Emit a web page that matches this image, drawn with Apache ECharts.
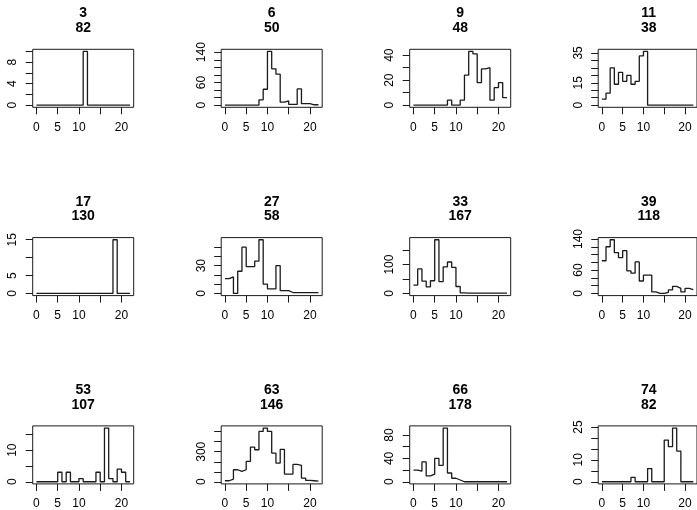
<!DOCTYPE html>
<html><head><meta charset="utf-8">
<script src="https://cdn.jsdelivr.net/npm/echarts@6/dist/echarts.min.js"></script>
<style>html,body{margin:0;padding:0;background:#fff}#c{width:697px;height:510px}</style>
</head><body><div id="c"></div>
<script>
// Panel titles (two lines each)
const panelIds = ['3','6','9','11','17','27','33','39','53','63','66','74'];
const panelNs  = ['82','50','48','38','130','58','167','118','107','146','178','82'];

// x positions are 0..22 (index)
const xTickValues = [0,5,10,15,20];
const xTickLabels = [0,5,10,20];

// Series values
const s3  = [0,0,0,0,0,0,0,0,0,0,0,10,0,0,0,0,0,0,0,0,0,0,0];
const s6  = [0,0,0,0,0,0,0,0,14,42,142,96,82,8,11,2,2,43,4,4,1,1,1];
const s9  = [0,0,0,0,0,0,0,0,4,0,0,4,24,43,41,18,29,30,4,14,18,6,6];
const s11 = [4,8,25,14,22,16,20,14,16,33,36,0,0,0,0,0,0,0,0,0,0,0,0];
const s17 = [0,0,0,0,0,0,0,0,0,0,0,0,0,0,0,0,0,0,15,0,0,0,0];
const s27 = [16,18,0,24,50,29,29,35,58,10,5,5,30,3,3,1,1,1,1,1,1,1,1];
const s33 = [29,85,43,23,44,186,41,92,109,90,24,2,1,1,1,1,1,1,1,1,1,1,1];
const s39 = [84,120,138,105,92,110,58,52,81,32,47,47,4,0,0,3,9,18,13,4,13,10,10];
const s53 = [0,0,0,0,0,3,0,3,0,0,1,0,0,0,3,0,17,1,0,4,3,0,0];
const s63 = [10,27,120,103,120,203,347,320,503,537,503,287,187,323,77,77,173,163,37,13,10,7,7];
const s66 = [20,18,34,10,13,40,28,92,15,6,3,0,0,0,0,0,0,0,0,0,0,0,0];
const s74 = [0,0,0,0,0,0,0,2,0,0,0,6,0,0,0,19,16,24.5,14,0,0,0,0];
const panelValues = [s3,s6,s9,s11,s17,s27,s33,s39,s53,s63,s66,s74];

// y-axis ticks and labels per panel
const yTicks3  = [0,2,4,6,8,10],            yLab3  = [0,4,8];
const yTicks6  = [0,20,40,60,80,100,120,140], yLab6 = [0,60,140];
const yTicks9  = [0,10,20,30,40],           yLab9  = [0,20,40];
const yTicks11 = [0,5,10,15,20,25,30,35],   yLab11 = [0,15,35];
const yTicks17 = [0,5,10,15],               yLab17 = [0,5,15];
const yTicks27 = [0,10,20,30,40,50],        yLab27 = [0,30];
const yTicks33 = [0,50,100,150],            yLab33 = [0,100];
const yTicks39 = [0,20,40,60,80,100,120,140], yLab39 = [0,60,140];
const yTicks53 = [0,5,10,15],               yLab53 = [0,10];
const yTicks63 = [0,100,200,300,400,500],   yLab63 = [0,300];
const yTicks66 = [0,20,40,60,80],           yLab66 = [0,40,80];
const yTicks74 = [0,5,10,15,20,25],         yLab74 = [0,10,25];
const panelYTicks = [yTicks3,yTicks6,yTicks9,yTicks11,yTicks17,yTicks27,yTicks33,yTicks39,yTicks53,yTicks63,yTicks66,yTicks74];
const panelYLabels = [yLab3,yLab6,yLab9,yLab11,yLab17,yLab27,yLab33,yLab39,yLab53,yLab63,yLab66,yLab74];

const FONT = '"Liberation Sans", Arial, Helvetica, sans-serif';
const INK = '#1a1a1a';
const chart = echarts.init(document.getElementById('c'), null, {renderer:'canvas'});
const grids=[], xAxes=[], yAxes=[], series=[], graphics=[];

panelValues.forEach((vals,i)=>{
  const r = Math.floor(i/4), c = i%4;
  const left = 32.7 + 188.5*c, top = 49.3 + 188.3*r, w = 101, h = 58;
  grids.push({left:left, top:top, width:w, height:h, show:true, borderColor:INK, borderWidth:1, backgroundColor:'transparent'});
  const n = vals.length - 1;
  const ymax = Math.max.apply(null, vals);
  xAxes.push({
    type:'value', gridIndex:i, min:-0.04*n, max:n*1.04,
    axisLine:{show:false, onZero:false}, splitLine:{show:false},
    axisTick:{show:true, length:7, inside:false, customValues:xTickValues, lineStyle:{color:INK, width:1}},
    axisLabel:{show:true, customValues:xTickLabels, margin:14, fontSize:12, color:'#000', fontFamily:FONT}
  });
  yAxes.push({
    type:'value', gridIndex:i, min:-0.04*ymax, max:ymax*1.04,
    axisLine:{show:false, onZero:false}, splitLine:{show:false},
    axisTick:{show:true, length:7, inside:false, customValues:panelYTicks[i], lineStyle:{color:INK, width:1}},
    axisLabel:{show:true, customValues:panelYLabels[i], rotate:90, margin:14, fontSize:12, color:'#000', fontFamily:FONT}
  });
  series.push({
    type:'line', xAxisIndex:i, yAxisIndex:i, step:'end', symbol:'none',
    data: vals.map((v,k)=>[k,v]), lineStyle:{color:INK, width:1.3}, clip:false
  });
  graphics.push({type:'text', x:left+w/2, y:top-35.7, style:{text:panelIds[i], fontSize:14, fontWeight:'bold', fontFamily:FONT, fill:'#000', align:'center', verticalAlign:'middle'}});
  graphics.push({type:'text', x:left+w/2, y:top-21, style:{text:panelNs[i], fontSize:14, fontWeight:'bold', fontFamily:FONT, fill:'#000', align:'center', verticalAlign:'middle'}});
});

chart.setOption({
  animation:false,
  backgroundColor:'#fff',
  grid:grids, xAxis:xAxes, yAxis:yAxes, series:series, graphic:graphics
});
</script></body></html>
